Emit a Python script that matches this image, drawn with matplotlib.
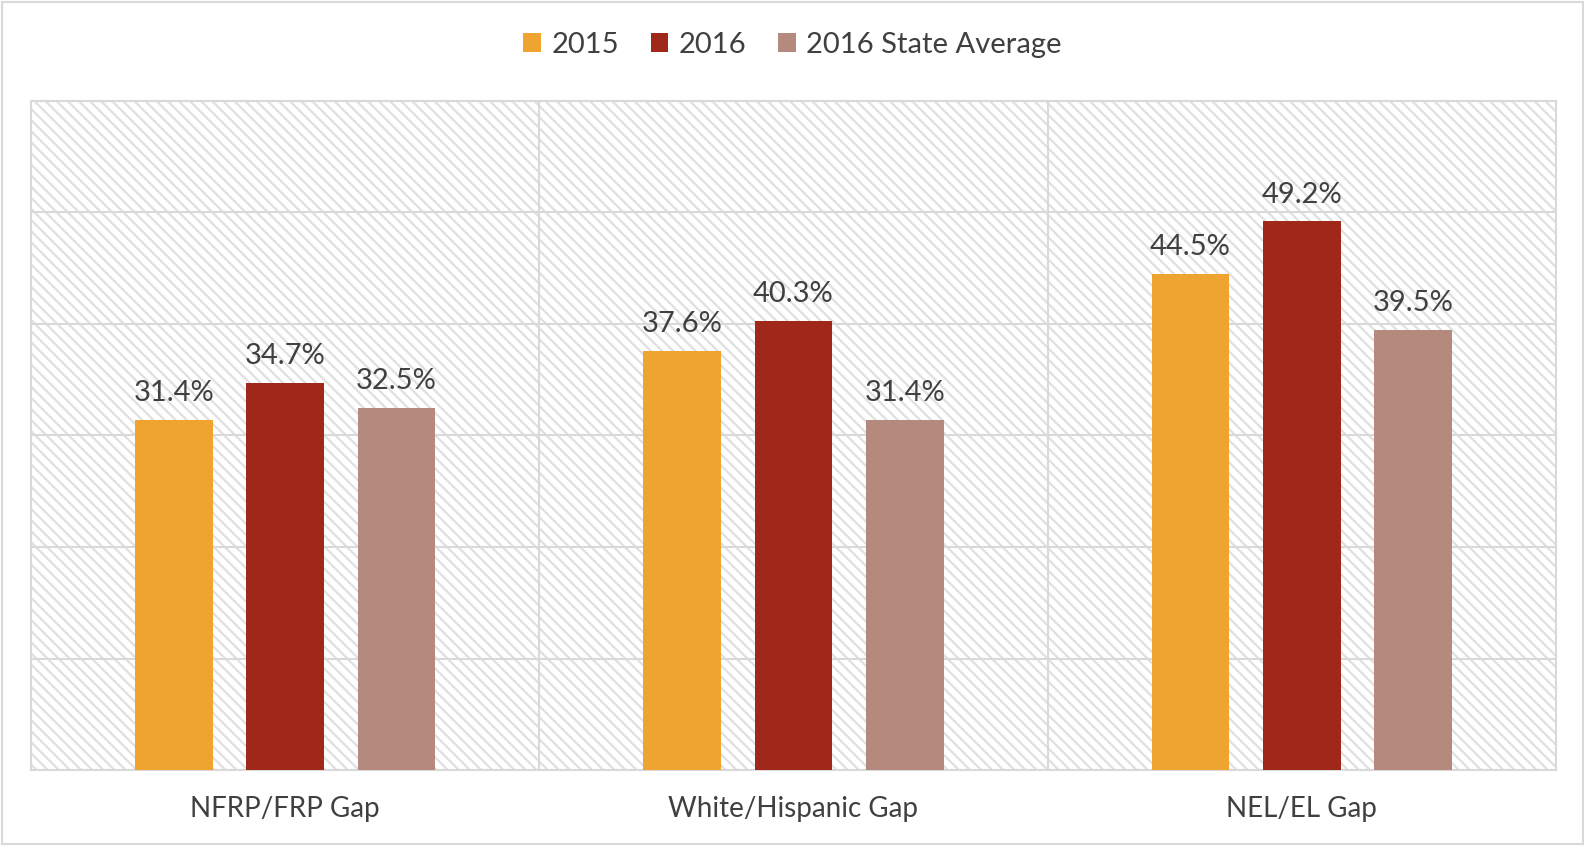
import numpy as np
import matplotlib.pyplot as plt
from matplotlib.patches import Rectangle

categories = ['NFRP/FRP Gap', 'White/Hispanic Gap', 'NEL/EL Gap']
series_names = ['2015', '2016', '2016 State Average']
vals_2015 = [31.4, 37.6, 44.5]
vals_2016 = [34.7, 40.3, 49.2]
vals_state = [32.5, 31.4, 39.5]
colores = ['#F0A430', '#A0281A', '#B58A7E']

plt.rcParams['font.family'] = ['Lato', 'DejaVu Sans']
plt.rcParams['hatch.linewidth'] = 1.6
texto = '#404040'

fig = plt.figure(figsize=(15.85, 8.46), dpi=100)
ax = fig.add_axes([31 / 1585, 1 - 770 / 846, (1556 - 31) / 1585, (770 - 101) / 846])

# fondo rayado del area de trazado
ax.add_patch(Rectangle((0, 0), 1, 1, transform=ax.transAxes, facecolor='white',
                       edgecolor='#E0E0E0', hatch='\\\\\\', linewidth=0, zorder=0))

x = np.arange(len(categories))
ancho = 0.153
paso = 0.219
for i, (vals, nombre) in enumerate(zip([vals_2015, vals_2016, vals_state], series_names)):
    pos = x + (i - 1) * paso
    barras = ax.bar(pos, vals, width=ancho, color=colores[i], label=nombre, zorder=3)
    for b, v in zip(barras, vals):
        ax.annotate(f'{v:.1f}%', (b.get_x() + b.get_width() / 2, v),
                    xytext=(0, 10), textcoords='offset points', ha='center', va='bottom',
                    fontsize=21, color=texto, zorder=4)

ax.set_xlim(-0.5, 2.5)
ax.set_ylim(0, 60)
ax.set_yticks(np.arange(0, 61, 10))
ax.set_yticklabels([])
ax.tick_params(axis='y', length=0)
ax.set_xticks(x)
ax.set_xticklabels(categories, fontsize=20, color=texto)
ax.tick_params(axis='x', length=0, pad=19)
ax.grid(axis='y', color='#D9D9D9', linewidth=1.5, zorder=1)
for xv in [0.5, 1.5]:
    ax.axvline(xv, color='#D9D9D9', linewidth=1.5, zorder=1)
for s in ax.spines.values():
    s.set_color('#D9D9D9')
    s.set_linewidth(1.5)

fig.legend(loc='center', bbox_to_anchor=(0.5, 1 - 45 / 846), ncol=3, frameon=False,
           fontsize=21, labelcolor=texto, handlelength=0.6, handleheight=0.6,
           handletextpad=0.35, columnspacing=1.1)

# borde exterior del grafico
fig.patches.append(Rectangle((2 / 1585, 2 / 846), 1 - 4 / 1585, 1 - 4 / 846,
                             transform=fig.transFigure, fill=False,
                             edgecolor='#D9D9D9', linewidth=1.5))

fig.savefig('out.png', dpi=100)
